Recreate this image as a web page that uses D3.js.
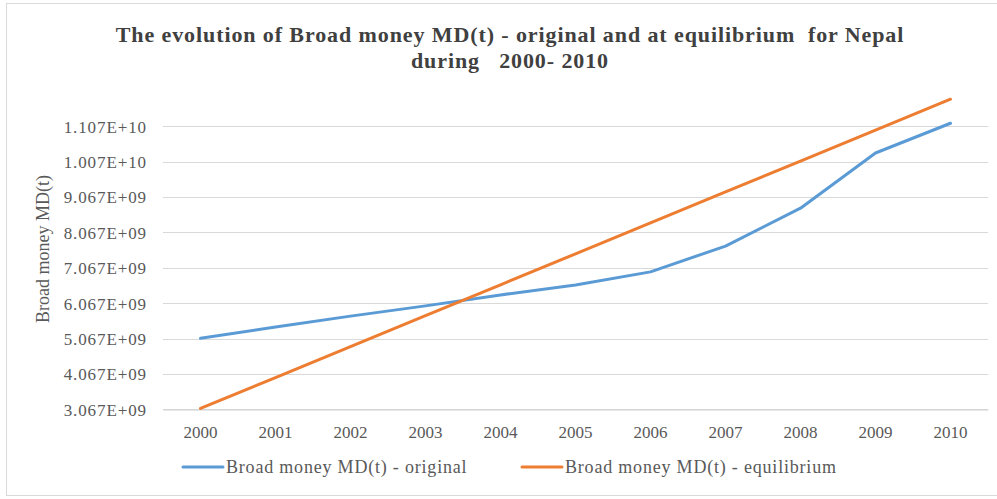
<!DOCTYPE html>
<html>
<head>
<meta charset="utf-8">
<script src="https://cdn.jsdelivr.net/npm/d3@7"></script>
<style>
  html, body { margin: 0; padding: 0; background: #fff; }
  svg { display: block; }
  text { white-space: pre; }
</style>
</head>
<body>
<script>
const years = ["2000","2001","2002","2003","2004","2005","2006","2007","2008","2009","2010"];
const original = [5.073e9, 5.39e9, 5.70e9, 5.99e9, 6.30e9, 6.58e9, 6.95e9, 7.68e9, 8.75e9, 10.31e9, 11.15e9];
const equilibrium = [3.09e9, 3.964e9, 4.838e9, 5.712e9, 6.586e9, 7.46e9, 8.334e9, 9.208e9, 10.082e9, 10.956e9, 11.83e9];
const yTickValues = [3.067e9, 4.067e9, 5.067e9, 6.067e9, 7.067e9, 8.067e9, 9.067e9, 10.067e9, 11.067e9];
const yTickLabels = ["3.067E+09","4.067E+09","5.067E+09","6.067E+09","7.067E+09","8.067E+09","9.067E+09","1.007E+10","1.107E+10"];
const seriesNames = ["Broad money MD(t) - original", "Broad money MD(t) - equilibrium"];
const colors = ["#5b9bd5", "#ed7d31"];
const titleLines = ["The evolution of Broad money MD(t) - original and at equilibrium  for Nepal", "during   2000- 2010"];
const yAxisTitle = "Broad money MD(t)";

const W = 997, H = 499;
const svg = d3.select("body").append("svg").attr("width", W).attr("height", H);
const font = "'Liberation Serif', 'Times New Roman', serif";
const txt = "#595959";

// chart border
svg.append("rect").attr("x", 6.5).attr("y", 3.5).attr("width", 995).attr("height", 492)
  .attr("fill", "none").attr("stroke", "#d9d9d9");

const pLeft = 163, pRight = 988, pTop = 126.2, pBottom = 409.3;
const x = d3.scaleBand().domain(years).range([pLeft, pRight]);
const y = d3.scaleLinear().domain([3.067e9, 11.067e9]).range([pBottom, pTop]);

// gridlines
svg.append("g").selectAll("line").data(yTickValues).join("line")
  .attr("x1", pLeft).attr("x2", pRight)
  .attr("y1", d => Math.round(y(d)) + 0.5).attr("y2", d => Math.round(y(d)) + 0.5)
  .attr("stroke", "#d9d9d9").attr("stroke-width", 1);

// y axis labels
const yAxis = d3.axisLeft(y).tickValues(yTickValues).tickFormat((d, i) => yTickLabels[i]).tickSize(0).tickPadding(16);
const gy = svg.append("g").attr("transform", `translate(${pLeft},0)`).call(yAxis);
gy.select(".domain").remove();
gy.selectAll("text").attr("font-family", font).attr("font-size", 17).attr("fill", txt)
  .attr("letter-spacing", "0.9px").attr("dy", "0.35em");

// x axis
const xAxis = d3.axisBottom(x).tickSize(0).tickPadding(16);
const gx = svg.append("g").attr("transform", `translate(0,${Math.round(pBottom) + 0.5})`).call(xAxis);
gx.select(".domain").attr("stroke", "#d0d0d0");
gx.selectAll("text").attr("font-family", font).attr("font-size", 17).attr("fill", txt).attr("dy", "0.72em");

// y axis title
svg.append("text").attr("transform", `translate(49,249) rotate(-90)`)
  .attr("text-anchor", "middle").attr("font-family", font).attr("font-size", 18).attr("fill", txt)
  .text(yAxisTitle);

// title
svg.append("g").selectAll("text").data(titleLines).join("text")
  .attr("x", 510).attr("y", (d, i) => 42 + i * 26)
  .attr("text-anchor", "middle").attr("font-family", font).attr("font-weight", "bold")
  .attr("font-size", 22).attr("letter-spacing", "0.9px").attr("fill", "#404040").text(d => d);

// lines
const line = d3.line().x((d, i) => x(years[i]) + x.bandwidth() / 2).y(d => y(d));
[original, equilibrium].forEach((s, k) => {
  svg.append("path").datum(s).attr("d", line).attr("fill", "none")
    .attr("stroke", colors[k]).attr("stroke-width", 3).attr("stroke-linecap", "round").attr("stroke-linejoin", "round");
});

// legend
const legendX = [183, 522];
const lg = svg.append("g").selectAll("g").data(seriesNames).join("g")
  .attr("transform", (d, i) => `translate(${legendX[i]},467)`);
lg.append("line").attr("x1", 0).attr("x2", 40).attr("y1", 0).attr("y2", 0)
  .attr("stroke", (d, i) => colors[i]).attr("stroke-width", 3).attr("stroke-linecap", "round");
lg.append("text").attr("x", 43).attr("y", 0).attr("dy", "0.35em")
  .attr("font-family", font).attr("font-size", 18).attr("letter-spacing", "0.8px").attr("fill", txt).text(d => d);
</script>
</body>
</html>
